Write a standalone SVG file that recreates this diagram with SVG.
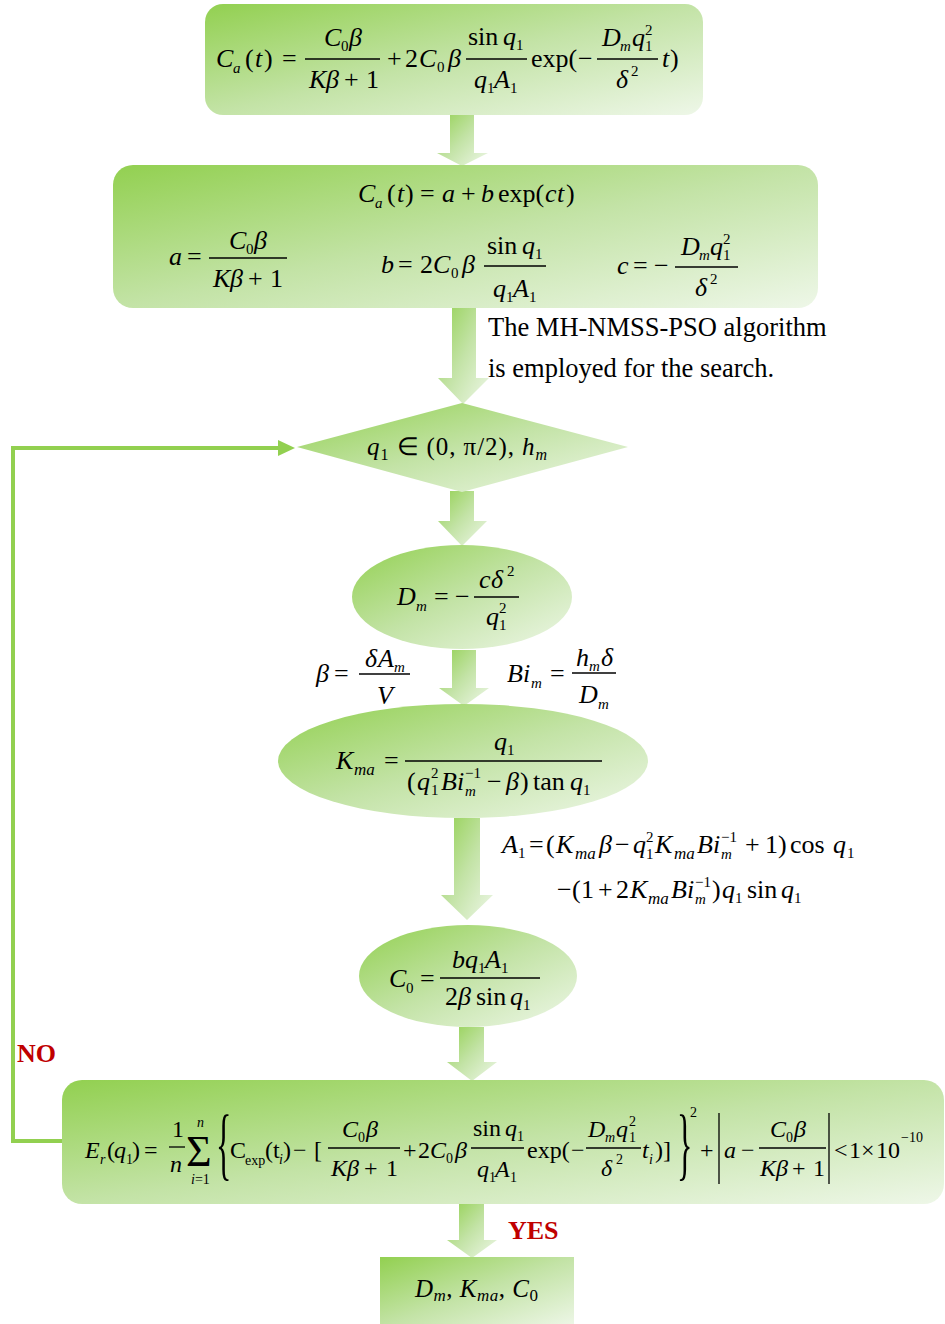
<svg xmlns="http://www.w3.org/2000/svg" width="945" height="1324" viewBox="0 0 945 1324">
<defs>
<linearGradient id="g" x1="0" y1="0" x2="1" y2="1">
<stop offset="0" stop-color="#92D050"/>
<stop offset="0.5" stop-color="#C3E3A6"/>
<stop offset="1" stop-color="#EEF7E8"/>
</linearGradient>
<style>
text{font-family:"Liberation Serif",serif;fill:#000}
.i{font-style:italic;font-size:26px}
.u{font-size:26px}
.s{font-size:15px}
.si{font-style:italic;font-size:15px}
.s17{font-style:italic;font-size:17px}
.b{font-style:italic;font-size:24px}
.bu{font-size:24px}
.bs{font-size:14px}
.bsi{font-style:italic;font-size:14px}
.bar{stroke:#000;stroke-width:1.3}
.lbl{font-size:26.5px}
.red{font-weight:bold;font-size:26px;fill:#C00000}
.fill{fill:url(#g)}
.loop{fill:none;stroke:#92D050;stroke-width:4}
</style>
</defs>
<rect width="945" height="1324" fill="#fff"/>

<g id="connectors">
<polygon class="fill" points="450,113 474,113 474,153 488,153 462,166 437,153 450,153"/>
<polygon class="fill" points="452,306 476,306 476,378 489,378 463,404 438,378 452,378"/>
<polygon class="fill" points="450,491 474,491 474,521 487,521 462,546 438,521 450,521"/>
<polygon class="fill" points="452,650 476,650 476,688 489,688 464,706 439,688 452,688"/>
<polygon class="fill" points="454,818 480,818 480,895 493,895 467,920 441,895 454,895"/>
<polygon class="fill" points="459,1027 484,1027 484,1062 497,1062 472,1081 447,1062 459,1062"/>
<polygon class="fill" points="459,1204 484,1204 484,1240 497,1240 472,1258 447,1240 459,1240"/>
<polyline class="loop" points="64,1141 13,1141 13,448 280,448"/>
<polygon points="278,440 295,448 278,456" fill="#92D050"/>
</g>

<g id="box1">
<rect class="fill" x="205" y="4" width="498" height="111" rx="18"/>
<text class="i" x="216" y="67">C</text>
<text class="si" x="233" y="73">a</text>
<text class="u" x="245" y="67">(</text>
<text class="i" x="255" y="67">t</text>
<text class="u" x="264" y="67">)</text>
<text class="u" x="282" y="67">=</text>
<line class="bar" x1="305" y1="59" x2="380" y2="59"/>
<text class="i" x="324" y="46">C</text><text class="s" x="341" y="51">0</text><text class="i" x="349" y="46">β</text>
<text class="i" x="309" y="88">K</text><text class="i" x="326" y="88">β</text><text class="u" x="344" y="88">+</text><text class="u" x="366" y="88">1</text>
<text class="u" x="387" y="67">+</text><text class="u" x="405" y="67">2</text><text class="i" x="419" y="67">C</text><text class="s" x="437" y="72">0</text><text class="i" x="448" y="67">β</text>
<line class="bar" x1="466" y1="59" x2="527" y2="59"/>
<text class="u" x="468" y="45">sin</text><text class="i" x="503" y="45">q</text><text class="s" x="516" y="50">1</text>
<text class="i" x="474" y="88">q</text><text class="s" x="487" y="93">1</text><text class="i" x="494" y="88">A</text><text class="s" x="510" y="93">1</text>
<text class="u" x="531" y="67">exp(</text><text class="u" x="578" y="67">−</text>
<line class="bar" x1="597" y1="59" x2="658" y2="59"/>
<text class="i" x="602" y="46">D</text><text class="si" x="620" y="51">m</text><text class="i" x="632" y="46">q</text><text class="s" x="645" y="35">2</text><text class="s" x="645" y="51">1</text>
<text class="i" x="616" y="88">δ</text><text class="s" x="631" y="76">2</text>
<text class="i" x="662" y="67">t</text><text class="u" x="670" y="67">)</text>
</g>

<g id="box2">
<rect class="fill" x="113" y="165" width="705" height="143" rx="20"/>
<text class="i" x="358" y="202">C</text><text class="si" x="375" y="208">a</text><text class="u" x="387" y="202">(</text><text class="i" x="397" y="202">t</text><text class="u" x="405" y="202">)</text>
<text class="u" x="420" y="202">=</text><text class="i" x="442" y="202">a</text><text class="u" x="461" y="202">+</text><text class="i" x="481" y="202">b</text>
<text class="u" x="498" y="202">exp(</text><text class="i" x="545" y="202">c</text><text class="i" x="557" y="202">t</text><text class="u" x="566" y="202">)</text>

<text class="i" x="169" y="265">a</text><text class="u" x="187" y="265">=</text>
<line class="bar" x1="209" y1="258" x2="287" y2="258"/>
<text class="i" x="229" y="249">C</text><text class="s" x="246" y="254">0</text><text class="i" x="254" y="249">β</text>
<text class="i" x="213" y="287">K</text><text class="i" x="230" y="287">β</text><text class="u" x="248" y="287">+</text><text class="u" x="270" y="287">1</text>

<text class="i" x="381" y="273">b</text><text class="u" x="398" y="273">=</text><text class="u" x="420" y="273">2</text><text class="i" x="433" y="273">C</text><text class="s" x="451" y="278">0</text><text class="i" x="462" y="273">β</text>
<line class="bar" x1="484" y1="266" x2="546" y2="266"/>
<text class="u" x="487" y="254">sin</text><text class="i" x="522" y="254">q</text><text class="s" x="535" y="259">1</text>
<text class="i" x="493" y="297">q</text><text class="s" x="506" y="302">1</text><text class="i" x="513" y="297">A</text><text class="s" x="529" y="302">1</text>

<text class="i" x="617" y="274">c</text><text class="u" x="633" y="274">=</text><text class="u" x="654" y="274">−</text>
<line class="bar" x1="675" y1="267" x2="738" y2="267"/>
<text class="i" x="681" y="255">D</text><text class="si" x="699" y="260">m</text><text class="i" x="710" y="255">q</text><text class="s" x="723" y="244">2</text><text class="s" x="723" y="260">1</text>
<text class="i" x="695" y="296">δ</text><text class="s" x="710" y="284">2</text>
</g>

<g id="label">
<text class="lbl" x="488" y="336">The MH-NMSS-PSO algorithm</text>
<text class="lbl" x="488" y="377">is employed for the search.</text>
</g>

<g id="diamond">
<polygon class="fill" points="462,403 628,447 462,492 297,447"/>
<text x="367" y="455" font-size="25" textLength="180"><tspan font-style="italic">q</tspan><tspan font-size="16" dy="5">1</tspan><tspan dy="-5"> ∈ (0, π/2), </tspan><tspan font-style="italic">h</tspan><tspan font-style="italic" font-size="16" dy="5">m</tspan></text>
</g>

<g id="ell-dm">
<ellipse class="fill" cx="462" cy="597" rx="110" ry="52"/>
<text class="i" x="397" y="605">D</text><text class="si" x="416" y="611">m</text><text class="u" x="434" y="605">=</text><text class="u" x="455" y="605">−</text>
<line class="bar" x1="474" y1="597" x2="519" y2="597"/>
<text class="i" x="479" y="588">c</text><text class="i" x="491" y="588">δ</text><text class="s" x="507" y="576">2</text>
<text class="i" x="486" y="625">q</text><text class="s" x="499" y="613">2</text><text class="s" x="499" y="630">1</text>
</g>

<g id="annotations">
<text class="i" x="316" y="682">β</text><text class="u" x="334" y="682">=</text>
<line class="bar" x1="359" y1="674" x2="410" y2="674"/>
<text class="i" x="365" y="667">δ</text><text class="i" x="378" y="667">A</text><text class="si" x="394" y="672">m</text>
<text class="i" x="377" y="704">V</text>

<text class="i" x="507" y="682">B</text><text class="i" x="523" y="682">i</text><text class="si" x="531" y="688">m</text><text class="u" x="550" y="682">=</text>
<line class="bar" x1="572" y1="673" x2="616" y2="673"/>
<text class="i" x="576" y="666">h</text><text class="si" x="589" y="671">m</text><text class="i" x="601" y="666">δ</text>
<text class="i" x="579" y="703">D</text><text class="si" x="598" y="709">m</text>

<text class="i" x="502" y="853">A</text><text class="s" x="518" y="858">1</text><text class="u" x="529" y="853">=</text><text class="u" x="546" y="853">(</text>
<text class="i" x="556" y="853">K</text><text class="s17" x="575" y="859">ma</text><text class="i" x="599" y="853">β</text><text class="u" x="615" y="853">−</text>
<text class="i" x="633" y="853">q</text><text class="s" x="646" y="842">2</text><text class="s" x="646" y="859">1</text>
<text class="i" x="655" y="853">K</text><text class="s17" x="674" y="859">ma</text><text class="i" x="697" y="853">B</text><text class="i" x="713" y="853">i</text>
<text class="s" x="721" y="842">−1</text><text class="si" x="721" y="859">m</text>
<text class="u" x="745" y="853">+</text><text class="u" x="765" y="853">1</text><text class="u" x="778" y="853">)</text>
<text class="u" x="790" y="853">cos</text><text class="i" x="833" y="853">q</text><text class="s" x="847" y="858">1</text>

<text class="u" x="557" y="898">−</text><text class="u" x="572" y="898">(</text><text class="u" x="581" y="898">1</text><text class="u" x="598" y="898">+</text><text class="u" x="616" y="898">2</text>
<text class="i" x="630" y="898">K</text><text class="s17" x="648" y="904">ma</text><text class="i" x="671" y="898">B</text><text class="i" x="687" y="898">i</text>
<text class="s" x="695" y="887">−1</text><text class="si" x="695" y="904">m</text>
<text class="u" x="712" y="898">)</text><text class="i" x="722" y="898">q</text><text class="s" x="735" y="903">1</text>
<text class="u" x="747" y="898">sin</text><text class="i" x="781" y="898">q</text><text class="s" x="794" y="903">1</text>
</g>

<g id="ell-kma">
<ellipse class="fill" cx="463" cy="761" rx="185" ry="57"/>
<text class="i" x="336" y="769">K</text><text class="s17" x="354" y="775">ma</text><text class="u" x="384" y="769">=</text>
<line class="bar" x1="405" y1="761" x2="602" y2="761"/>
<text class="i" x="494" y="750">q</text><text class="s" x="507" y="755">1</text>
<text class="u" x="407" y="790">(</text><text class="i" x="417" y="790">q</text><text class="s" x="431" y="778">2</text><text class="s" x="431" y="795">1</text>
<text class="i" x="441" y="790">B</text><text class="i" x="457" y="790">i</text><text class="s" x="465" y="778">−1</text><text class="si" x="465" y="796">m</text>
<text class="u" x="487" y="790">−</text><text class="i" x="506" y="790">β</text><text class="u" x="520" y="790">)</text>
<text class="u" x="533" y="790">tan</text><text class="i" x="570" y="790">q</text><text class="s" x="583" y="795">1</text>
</g>

<g id="ell-c0">
<ellipse class="fill" cx="468" cy="976" rx="109" ry="51"/>
<text class="i" x="389" y="987">C</text><text class="s" x="406" y="993">0</text><text class="u" x="420" y="987">=</text>
<line class="bar" x1="440" y1="978" x2="540" y2="978"/>
<text class="i" x="452" y="968">b</text><text class="i" x="465" y="968">q</text><text class="s" x="478" y="973">1</text><text class="i" x="485" y="968">A</text><text class="s" x="501" y="973">1</text>
<text class="u" x="445" y="1005">2</text><text class="i" x="458" y="1005">β</text><text class="u" x="476" y="1005">sin</text><text class="i" x="510" y="1005">q</text><text class="s" x="523" y="1010">1</text>
</g>

<g id="box-er">
<rect class="fill" x="62" y="1080" width="882" height="124" rx="20"/>
<text class="b" x="85" y="1158">E</text><text class="bsi" x="100" y="1164">r</text><text class="bu" x="107" y="1158">(</text><text class="b" x="114" y="1158">q</text><text class="bs" x="126" y="1164">1</text><text class="bu" x="132" y="1158">)</text><text class="bu" x="144" y="1158">=</text>
<text class="bu" x="172" y="1137">1</text>
<line class="bar" x1="169" y1="1147" x2="185" y2="1147"/>
<text class="b" x="170" y="1172">n</text>
<text x="186" y="1166" font-size="44">Σ</text>
<text class="bsi" x="197" y="1127">n</text>
<text class="bs" x="191" y="1184"><tspan font-style="italic">i</tspan>=1</text>
<text transform="translate(216,1170) scale(0.4,1)" font-size="80">{</text>
<text class="bu" x="230" y="1158">C</text><text class="bs" x="245" y="1165">exp</text><text class="bu" x="265" y="1158">(t</text><text class="bsi" x="279" y="1164">i</text><text class="bu" x="283" y="1158">)</text><text class="bu" x="293" y="1158">−</text><text class="bu" x="314" y="1158">[</text>
<line class="bar" x1="328" y1="1148" x2="400" y2="1148"/>
<text class="b" x="342" y="1137">C</text><text class="bs" x="358" y="1142">0</text><text class="b" x="366" y="1137">β</text>
<text class="b" x="331" y="1176">K</text><text class="b" x="347" y="1176">β</text><text class="bu" x="364" y="1176">+</text><text class="bu" x="386" y="1176">1</text>
<text class="bu" x="403" y="1158">+</text><text class="bu" x="418" y="1158">2</text><text class="b" x="430" y="1158">C</text><text class="bs" x="446" y="1163">0</text><text class="b" x="455" y="1158">β</text>
<line class="bar" x1="471" y1="1148" x2="524" y2="1148"/>
<text class="bu" x="473" y="1136">sin</text><text class="b" x="505" y="1136">q</text><text class="bs" x="517" y="1141">1</text>
<text class="b" x="477" y="1177">q</text><text class="bs" x="489" y="1182">1</text><text class="b" x="495" y="1177">A</text><text class="bs" x="510" y="1182">1</text>
<text class="bu" x="527" y="1158">exp(</text><text class="bu" x="571" y="1158">−</text>
<line class="bar" x1="586" y1="1148" x2="641" y2="1148"/>
<text class="b" x="588" y="1137">D</text><text class="bsi" x="605" y="1142">m</text><text class="b" x="616" y="1137">q</text><text class="bs" x="629" y="1126">2</text><text class="bs" x="629" y="1142">1</text>
<text class="b" x="601" y="1176">δ</text><text class="bs" x="616" y="1164">2</text>
<text class="b" x="642" y="1158">t</text><text class="bsi" x="649" y="1164">i</text><text class="bu" x="655" y="1158">)]</text>
<text transform="translate(677,1170) scale(0.4,1)" font-size="80">}</text>
<text class="bs" x="690" y="1117">2</text>
<text class="bu" x="700" y="1158">+</text>
<line class="bar" x1="719" y1="1113" x2="719" y2="1184"/>
<text class="b" x="724" y="1158">a</text><text class="bu" x="741" y="1158">−</text>
<line class="bar" x1="759" y1="1148" x2="826" y2="1148"/>
<text class="b" x="770" y="1137">C</text><text class="bs" x="786" y="1142">0</text><text class="b" x="794" y="1137">β</text>
<text class="b" x="760" y="1176">K</text><text class="b" x="776" y="1176">β</text><text class="bu" x="792" y="1176">+</text><text class="bu" x="813" y="1176">1</text>
<line class="bar" x1="829" y1="1113" x2="829" y2="1184"/>
<text class="bu" x="834" y="1158">&lt;</text><text class="bu" x="849" y="1158">1</text><text class="bu" x="861" y="1158">×</text><text class="bu" x="876" y="1158">10</text>
<text class="bs" x="901" y="1142" textLength="22">−10</text>
</g>

<g id="box-out">
<rect class="fill" x="380" y="1257" width="194" height="70"/>
<text x="415" y="1297" font-size="25" textLength="123"><tspan font-style="italic">D</tspan><tspan font-style="italic" font-size="17" dy="4">m</tspan><tspan dy="-4">, </tspan><tspan font-style="italic">K</tspan><tspan font-style="italic" font-size="17" dy="4">ma</tspan><tspan dy="-4">, </tspan><tspan font-style="italic">C</tspan><tspan font-size="17" dy="4">0</tspan></text>
</g>

<g id="flags">
<text class="red" x="17" y="1062">NO</text>
<text class="red" x="508" y="1239">YES</text>
</g>
</svg>
